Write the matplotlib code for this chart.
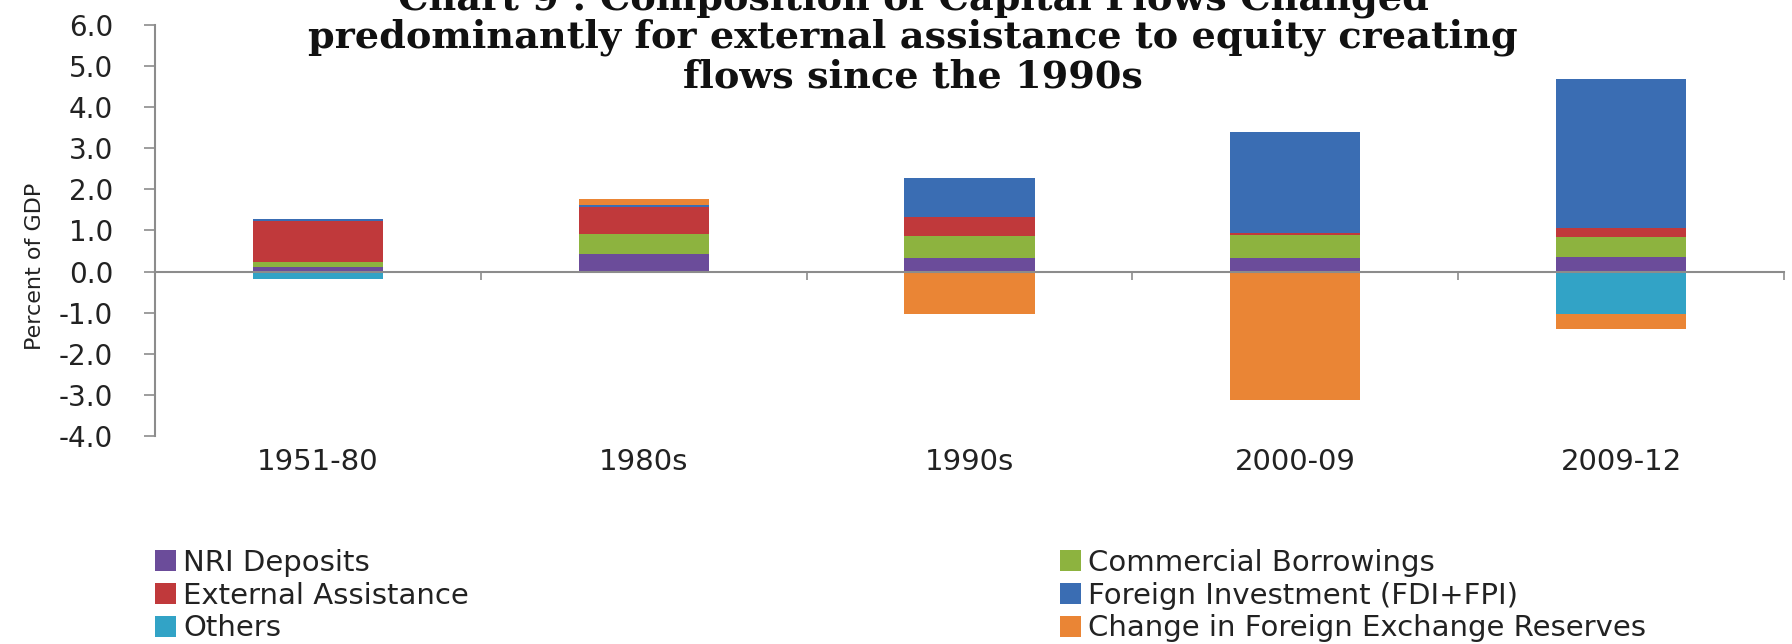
import matplotlib
matplotlib.use("Agg")
import matplotlib.pyplot as plt
import numpy as np

# data (percent of GDP)
categories = ['1951-80', '1980s', '1990s', '2000-09', '2009-12']
nri_deposits = [0.12, 0.42, 0.34, 0.33, 0.35]
commercial_borrowings = [0.12, 0.49, 0.53, 0.56, 0.49]
external_assistance = [0.98, 0.65, 0.45, 0.06, 0.22]
foreign_investment = [0.06, 0.06, 0.95, 2.45, 3.63]
others = [-0.18, 0.0, 0.0, 0.0, -1.03]
fx_reserves_change = [0.0, 0.14, -1.04, -3.13, -0.37]

series_names = ['NRI Deposits', 'Commercial Borrowings', 'External Assistance',
                'Foreign Investment (FDI+FPI)', 'Others',
                'Change in Foreign Exchange Reserves']
series_colors = ['#6B4C9A', '#8DB33F', '#C0393B', '#3A6DB3', '#32A3C6', '#EA8535']
yticks = [-4, -3, -2, -1, 0, 1, 2, 3, 4, 5, 6]

title_lines = ['Chart 9 : Composition of Capital Flows Changed',
               'predominantly for external assistance to equity creating',
               'flows since the 1990s']

W, H = 1792, 644
fig = plt.figure(figsize=(W / 100, H / 100), dpi=100)
ax = fig.add_axes([155 / W, 1 - 436 / H, (1784 - 155) / W, (436 - 25) / H])

x = np.arange(len(categories))
all_series = [nri_deposits, commercial_borrowings, external_assistance,
              foreign_investment, others, fx_reserves_change]
pos_base = np.zeros(len(categories))
neg_base = np.zeros(len(categories))
bars = []
for vals, name, col in zip(all_series, series_names, series_colors):
    vals = np.array(vals)
    base = np.where(vals >= 0, pos_base, neg_base)
    b = ax.bar(x, vals, width=0.4, bottom=base, color=col, label=name, linewidth=0)
    bars.append(b)
    pos_base = pos_base + np.where(vals > 0, vals, 0)
    neg_base = neg_base + np.where(vals < 0, vals, 0)

ax.set_xlim(-0.5, len(categories) - 0.5)
ax.set_ylim(-4, 6)

axis_grey = '#8C8C8C'
for s in ['top', 'right']:
    ax.spines[s].set_visible(False)
ax.spines['left'].set_color(axis_grey)
ax.spines['left'].set_linewidth(1.5)
ax.spines['bottom'].set_position(('data', 0))
ax.spines['bottom'].set_color(axis_grey)
ax.spines['bottom'].set_linewidth(1.5)

ax.set_yticks(yticks, [f'{v:.1f}' for v in yticks])
ax.tick_params(axis='y', direction='out', length=8, width=1.2, color=axis_grey,
               labelsize=20, labelcolor='#222222', pad=22)

# boundary tick marks on the zero line, category names at the bottom
ax.set_xticks(np.arange(len(categories) + 1) - 0.5)
ax.set_xticklabels([])
ax.tick_params(axis='x', which='major', direction='out', length=6, width=1.2,
               color=axis_grey)
ax.set_xticks(x, categories, minor=True)
ax.tick_params(axis='x', which='minor', length=0, pad=137, labelsize=21,
               labelcolor='#222222')
for lab in ax.get_xticklabels(minor=True):
    lab.set_verticalalignment('center')

ax.set_ylabel('Percent of GDP', fontsize=16, color='#222222')
ax.yaxis.set_label_coords((45 - 155) / (1784 - 155), (436 - 266) / (436 - 25))

# title, top line is clipped by the figure edge as in the original
title_y = [10, 47, 88]
for line, ty in zip(title_lines, title_y):
    fig.text(913 / W, 1 - ty / H, line, ha='center', va='baseline',
             family='DejaVu Serif', fontweight='bold', fontsize=27.5, color='#111111')

leg_kw = dict(loc='upper left', frameon=False, fontsize=21, handlelength=0.72,
              handleheight=0.72, handletextpad=0.25, labelspacing=0.16,
              borderpad=0, borderaxespad=0)
left_idx = [0, 2, 4]
right_idx = [1, 3, 5]
leg1 = fig.legend([bars[i] for i in left_idx], [series_names[i] for i in left_idx],
                  bbox_to_anchor=(155 / W, 1 - 549 / H), **leg_kw)
leg2 = fig.legend([bars[i] for i in right_idx], [series_names[i] for i in right_idx],
                  bbox_to_anchor=(1060 / W, 1 - 549 / H), **leg_kw)
for leg in (leg1, leg2):
    for t in leg.get_texts():
        t.set_color('#222222')

fig.savefig('out.png', dpi=100, facecolor='white')
